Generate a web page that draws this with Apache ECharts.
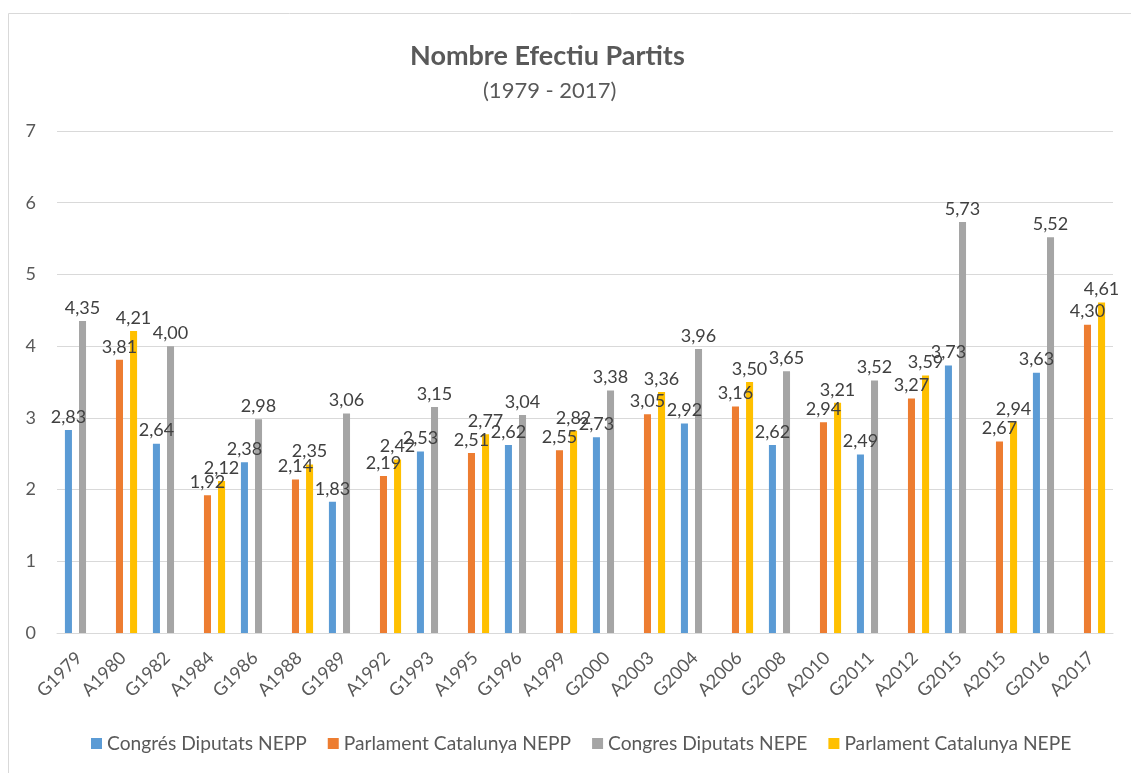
<!DOCTYPE html>
<html>
<head>
<meta charset="utf-8">
<script src="https://cdn.jsdelivr.net/npm/echarts@6/dist/echarts.min.js"></script>
<style>html,body{margin:0;padding:0;background:#fff}#c{width:1131px;height:773px}</style>
</head>
<body>
<div id="c"></div>
<script>
const categories = ['G1979','A1980','G1982','A1984','G1986','A1988','G1989','A1992','G1993','A1995','G1996','A1999','G2000','A2003','G2004','A2006','G2008','A2010','G2011','A2012','G2015','A2015','G2016','A2017'];
const congresNEPP = [2.83,null,2.64,null,2.38,null,1.83,null,2.53,null,2.62,null,2.73,null,2.92,null,2.62,null,2.49,null,3.73,null,3.63,null];
const parlamentNEPP = [null,3.81,null,1.92,null,2.14,null,2.19,null,2.51,null,2.55,null,3.05,null,3.16,null,2.94,null,3.27,null,2.67,null,4.30];
const congresNEPE = [4.35,null,4.00,null,2.98,null,3.06,null,3.15,null,3.04,null,3.38,null,3.96,null,3.65,null,3.52,null,5.73,null,5.52,null];
const parlamentNEPE = [null,4.21,null,2.12,null,2.35,null,2.42,null,2.77,null,2.82,null,3.36,null,3.50,null,3.21,null,3.59,null,2.94,null,4.61];
const yTicks = [0,1,2,3,4,5,6,7];

const FONT = 'Lato';
const seriesDefs = [
  ['Congrés Diputats NEPP', congresNEPP, '#5b9bd5'],
  ['Parlament Catalunya NEPP', parlamentNEPP, '#ed7d31'],
  ['Congres Diputats NEPE', congresNEPE, '#a5a5a5'],
  ['Parlament Catalunya NEPE', parlamentNEPE, '#ffc000']
];
const chart = echarts.init(document.getElementById('c'));
chart.setOption({
  animation: false,
  textStyle: {fontFamily: FONT},
  title: [
    {text: 'Nombre Efectiu Partits', left: 405, top: 38,
     textStyle: {fontFamily: FONT, fontSize: 27, fontWeight: 'bold', color: '#595959'}},
    {text: '(1979 - 2017)', left: 478, top: 75,
     textStyle: {fontFamily: FONT, fontSize: 22, fontWeight: 'normal', color: '#595959'}}
  ],
  graphic: [{type: 'rect', shape: {x: 8.5, y: 13.5, width: 1130, height: 770},
    style: {fill: 'none', stroke: '#d9d9d9', lineWidth: 1}, silent: true}],
  legend: {
    bottom: 15, left: 86, itemWidth: 11, itemHeight: 11, itemGap: 21,
    icon: 'rect',
    textStyle: {fontFamily: FONT, fontSize: 19.2, color: '#595959'},
    data: seriesDefs.map(s => s[0])
  },
  grid: {left: 57, right: 18, top: 131, bottom: 140},
  xAxis: {
    type: 'category', data: categories,
    axisLine: {lineStyle: {color: '#d9d9d9', width: 1}},
    axisTick: {show: false},
    axisLabel: {rotate: 45, fontFamily: FONT, fontSize: 18, color: '#595959', margin: 22, interval: 0}
  },
  yAxis: {
    type: 'value', min: 0, max: 7, interval: 1,
    axisLine: {show: false}, axisTick: {show: false},
    splitLine: {lineStyle: {color: '#d9d9d9', width: 1}},
    axisLabel: {fontFamily: FONT, fontSize: 18, color: '#595959', margin: 21,
      formatter: v => yTicks.includes(v) ? String(v) : ''}
  },
  series: seriesDefs.map(([name, data, color]) => ({
    name, type: 'bar', data, barGap: '0%', barCategoryGap: '36%',
    itemStyle: {color},
    label: {show: true, position: 'top', distance: 4, fontFamily: FONT, fontSize: 18, color: '#404040',
      formatter: p => p.value == null ? '' : p.value.toFixed(2).replace('.', ',')}
  }))
});
</script>
</body>
</html>
